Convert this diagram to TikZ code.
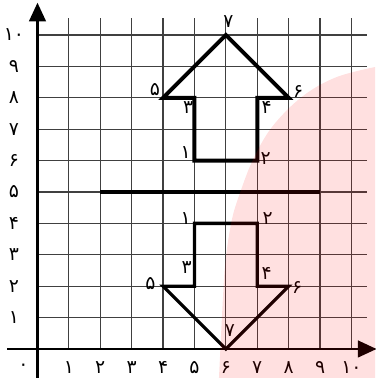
\documentclass[tikz,border=0pt]{standalone}
\usepackage{fontspec}
\newfontfamily\fa{DejaVu Sans}
\usetikzlibrary{arrows.meta}
\begin{document}
\begin{tikzpicture}[x=1cm,y=1cm,
  gridline/.style={line width=1.1pt, black!75},
  axis/.style={line width=2.6pt, black},
  shapeup/.style={line width=3.6pt, black, line join=miter},
  shapedn/.style={line width=3pt, black, line join=miter},
  lab/.style={font=\fa\fontsize{17}{17}\selectfont, inner sep=0pt},
  tipend/.style={-{Triangle[length=17pt,width=15pt]}}]
\useasboundingbox (-1.194,-0.924) rectangle (10.75,11.115);
% grid
\foreach \i in {1,...,10}{
  \draw[gridline] (\i,0) -- (\i,10.55);
  \draw[gridline] (0,\i) -- (10.5,\i);
}
% axes
\coordinate (xs) at (-0.97,0);
\coordinate (xe) at (10.8,0);
\coordinate (ys) at (0,-0.95);
\coordinate (ye) at (0,11.03);
\draw[axis, tipend] (xs) -- (xe);
\draw[axis, tipend] (ys) -- (ye);
% axis labels
\node[lab] (o) at (-0.45,-0.57) {۰};
\foreach \i/\t in {1/۱,2/۲,3/۳,4/۴,5/۵,6/۶,7/۷,8/۸,9/۹,10/۱۰}{
  \node[lab] (xl\i) at (\i,-0.6) {\t};
  \node[lab] (yl\i) at (-0.75,\i) {\t};
}
% middle line
\coordinate (m1) at (2,5);
\coordinate (m2) at (9,5);
\draw[shapeup] (m1) -- (m2);
% upper arrow
\coordinate (u1) at (5,6);
\coordinate (u2) at (7,6);
\coordinate (u3) at (5,8);
\coordinate (u4) at (7,8);
\coordinate (u5) at (4,8);
\coordinate (u6) at (8,8);
\coordinate (u7) at (6,10);
\draw[shapeup] (u1) -- (u2) -- (u4) -- (u6) -- (u7) -- (u5) -- (u3) -- cycle;
\node[lab] (lu1) at (4.72,6.27) {۱};
\node[lab] (lu2) at (7.27,6.07) {۲};
\node[lab] (lu3) at (4.8,7.68) {۳};
\node[lab] (lu4) at (7.3,7.7) {۴};
\node[lab] (lu5) at (3.74,8.25) {۵};
\node[lab] (lu6) at (8.3,8.2) {۶};
\node[lab] (lu7) at (6.08,10.42) {۷};
% lower arrow
\coordinate (d1) at (5,4);
\coordinate (d2) at (7,4);
\coordinate (d3) at (5,2);
\coordinate (d4) at (7,2);
\coordinate (d5) at (4,2);
\coordinate (d6) at (8,2);
\coordinate (d7) at (6,0);
\draw[shapedn] (d1) -- (d2) -- (d4) -- (d6) -- (d7) -- (d5) -- (d3) -- cycle;
\node[lab] (ld1) at (4.72,4.17) {۱};
\node[lab] (ld2) at (7.33,4.17) {۲};
\node[lab] (ld3) at (4.75,2.58) {۳};
\node[lab] (ld4) at (7.3,2.42) {۴};
\node[lab] (ld5) at (3.6,2.08) {۵};
\node[lab] (ld6) at (8.27,1.97) {۶};
\node[lab] (ld7) at (6.13,0.6) {۷};
% pink overlay
\fill[red, opacity=0.12] plot[smooth, tension=0.6] coordinates {(5.78,-0.924) (5.9,1.5) (5.99,2.83) (6.19,4.11) (6.45,4.97) (6.86,6.02) (7.47,7.07) (8.42,8.03) (9.5,8.65) (10.75,8.98)} -- (10.75,-0.924) -- cycle;
\end{tikzpicture}
\end{document}
